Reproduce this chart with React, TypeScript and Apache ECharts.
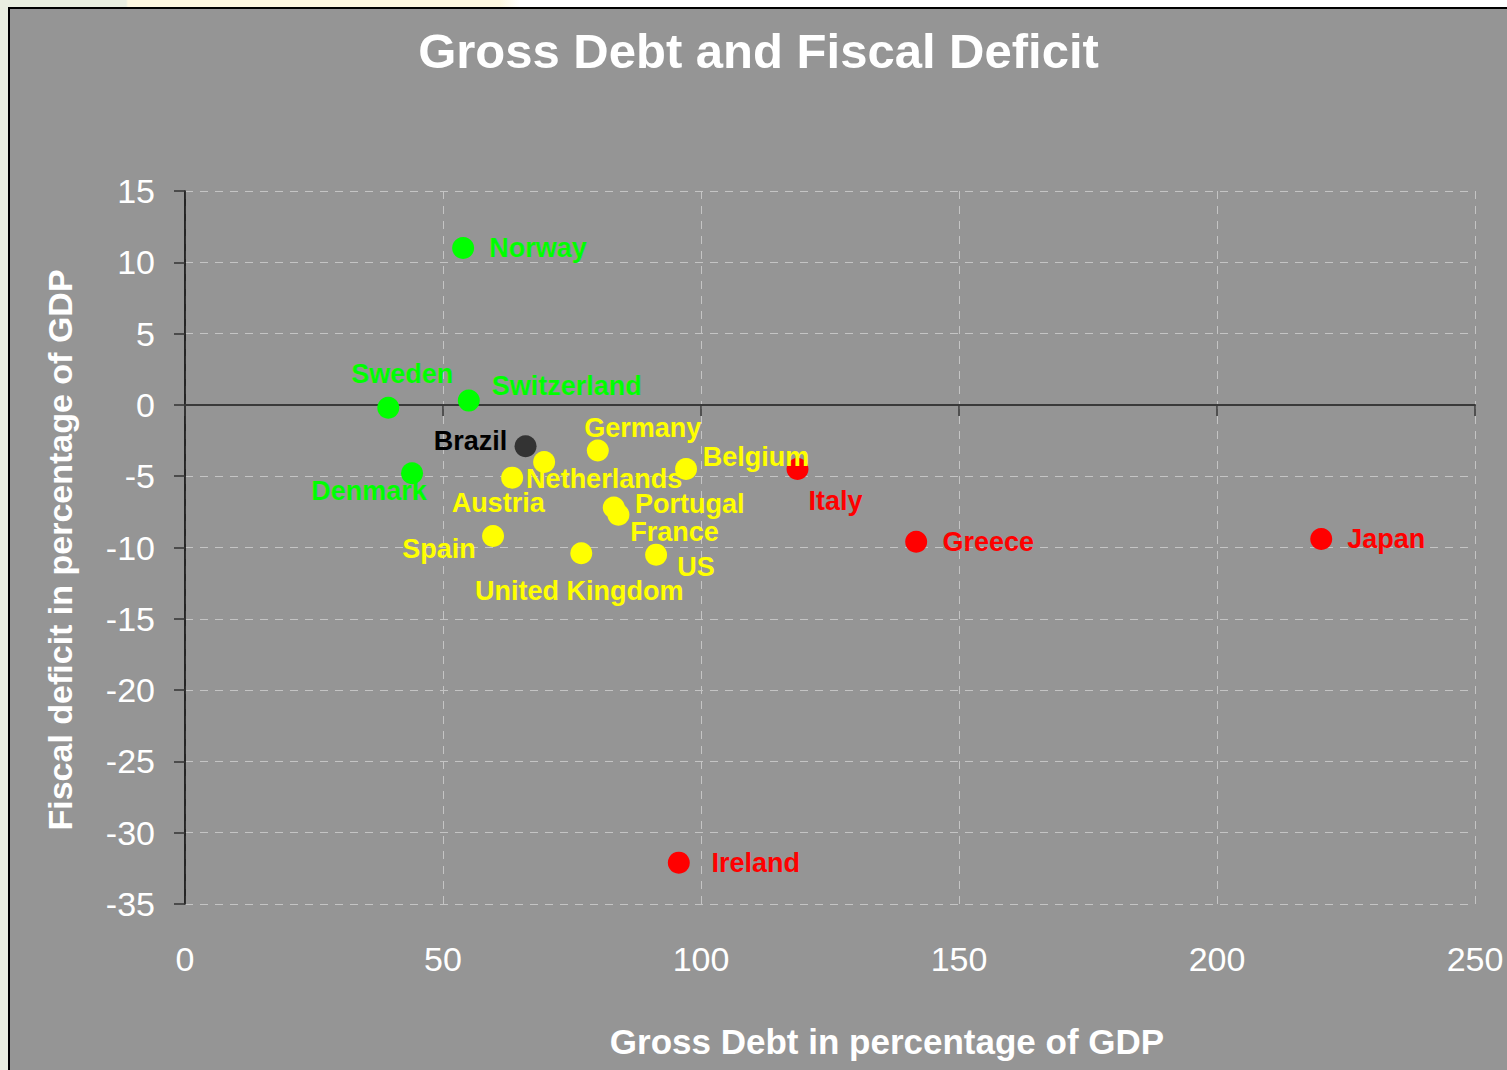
import React, { useEffect, useRef } from "react";
import * as echarts from "echarts";

const countries = ["Norway", "Sweden", "Switzerland", "Denmark", "Brazil", "Germany", "Netherlands", "Austria", "Belgium", "Portugal", "France", "Spain", "United Kingdom", "US", "Italy", "Greece", "Japan", "Ireland"];
const grossDebt = [53.9, 39.4, 55.0, 44.0, 66.0, 80.0, 69.6, 63.4, 97.1, 83.1, 84.0, 59.7, 76.8, 91.3, 118.7, 141.7, 220.2, 95.7];
const fiscalDeficit = [11.0, -0.2, 0.3, -4.8, -2.9, -3.2, -4.0, -5.1, -4.5, -7.2, -7.7, -9.2, -10.4, -10.5, -4.5, -9.6, -9.4, -32.1];
const groups = ["green", "green", "green", "green", "brazil", "yellow", "yellow", "yellow", "yellow", "yellow", "yellow", "yellow", "yellow", "yellow", "red", "red", "red", "red"];

const xTicks = [0, 50, 100, 150, 200, 250];
const yTicks = [-35, -30, -25, -20, -15, -10, -5, 0, 5, 10, 15];

// label centre offsets relative to the dot (px)
const labelOffsets: [number, number][] = [
  [75, 0], [14, -34], [98, -15], [-43, 18], [-55, -5], [45, -23], [60, 17], [-14, 25], [70, -12],
  [76, -4], [56, 17], [-54, 13], [-2, 38], [40, 12], [38, 32], [72, 0], [65, 0], [77, 0],
];

const groupStyle: Record<string, { dot: string; text: string }> = {
  green: { dot: "#00ff00", text: "#00ff00" },
  yellow: { dot: "#ffff00", text: "#ffff00" },
  red: { dot: "#ff0000", text: "#ff0000" },
  brazil: { dot: "#333333", text: "#000000" },
};
const groupOrder = ["green", "yellow", "red", "brazil"];

const FONT = "'Liberation Sans', Arial, Helvetica, sans-serif";

export default function App() {
  const ref = useRef<HTMLDivElement>(null);

  useEffect(() => {
    if (!ref.current) return;
    const chart = echarts.init(ref.current, undefined, { renderer: "svg" });

    const series = groupOrder.map((g) => ({
      type: "scatter" as const,
      name: g,
      xAxisIndex: 0,
      yAxisIndex: 0,
      symbol: "circle",
      symbolSize: 22,
      itemStyle: { color: groupStyle[g].dot, opacity: 1 },
      z: 5,
      data: countries
        .map((c, i) => ({ c, i }))
        .filter(({ i }) => groups[i] === g)
        .map(({ c, i }) => ({
          name: c,
          value: [grossDebt[i], fiscalDeficit[i]],
          label: {
            show: true,
            position: "inside",
            offset: labelOffsets[i],
            formatter: "{b}",
            color: groupStyle[g].text,
            fontFamily: FONT,
            fontWeight: "bold",
            fontSize: 27,
            lineHeight: 21,
          },
        })),
    }));

    const gridLine = { show: true, lineStyle: { color: "#c4c4c4", type: [8, 7] as number[], width: 1 } };

    chart.setOption({
      animation: false,
      backgroundColor: "#959595",
      textStyle: { fontFamily: FONT },
      title: {
        text: "Gross Debt and Fiscal Deficit",
        left: "center",
        top: 12,
        textStyle: { color: "#ffffff", fontSize: 49, fontWeight: "bold", fontFamily: FONT },
      },
      grid: { left: 175, top: 182, right: 32, bottom: 166, containLabel: false },
      xAxis: [
        {
          type: "value",
          min: xTicks[0],
          max: xTicks[xTicks.length - 1],
          interval: 50,
          position: "bottom",
          axisLine: { show: false, onZero: false },
          axisTick: { show: false },
          splitLine: gridLine,
          axisLabel: { color: "#ffffff", fontSize: 34, margin: 38, fontFamily: FONT },
        },
        {
          type: "value",
          min: xTicks[0],
          max: xTicks[xTicks.length - 1],
          interval: 50,
          position: "bottom",
          axisLine: { show: true, onZero: true, lineStyle: { color: "#3a3a3a", width: 2 } },
          axisTick: { show: true, length: 11, lineStyle: { color: "#3a3a3a", width: 1.5 } },
          splitLine: { show: false },
          axisLabel: { show: false },
          z: 3,
        },
      ],
      yAxis: {
        type: "value",
        min: yTicks[0],
        max: yTicks[yTicks.length - 1],
        interval: 5,
        axisLine: { show: true, onZero: false, lineStyle: { color: "#000000", width: 1.5 } },
        axisTick: { show: true, length: 11, lineStyle: { color: "#333333", width: 1.5 } },
        splitLine: gridLine,
        axisLabel: { color: "#ffffff", fontSize: 34, margin: 30, fontFamily: FONT },
      },
      graphic: [
        {
          type: "text",
          x: 877,
          y: 1032,
          style: {
            text: "Gross Debt in percentage of GDP",
            fill: "#ffffff",
            font: `bold 35px ${FONT}`,
            align: "center",
            verticalAlign: "middle",
            textAlign: "center",
            textVerticalAlign: "middle",
          },
        },
        {
          type: "text",
          x: 50,
          y: 541,
          rotation: Math.PI / 2,
          style: {
            text: "Fiscal deficit in percentage of GDP",
            fill: "#ffffff",
            font: `bold 34px ${FONT}`,
            align: "center",
            verticalAlign: "middle",
            textAlign: "center",
            textVerticalAlign: "middle",
          },
        },
      ],
      series,
    });

    return () => chart.dispose();
  }, []);

  return (
    <div style={{ position: "fixed", left: 0, top: 0, width: 1507, height: 1070, background: "#ffffff", overflow: "hidden" }}>
      <div
        style={{
          position: "absolute",
          left: 0,
          top: 0,
          width: 1507,
          height: 8,
          background: "linear-gradient(to right, #e9eee0 0px, #e9eee0 126px, #fdf7e0 128px, #fdf7e0 500px, #ffffff 520px)",
        }}
      />
      <div style={{ position: "absolute", left: 0, top: 0, width: 8, height: 1070, background: "#e9eee0" }} />
      <div
        style={{
          position: "absolute",
          left: 8,
          top: 7,
          width: 1499,
          height: 1063,
          borderTop: "2px solid #000000",
          borderLeft: "2px solid #000000",
          boxSizing: "border-box",
          background: "#959595",
        }}
      >
        <div ref={ref} style={{ width: 1497, height: 1061 }} />
      </div>
    </div>
  );
}
